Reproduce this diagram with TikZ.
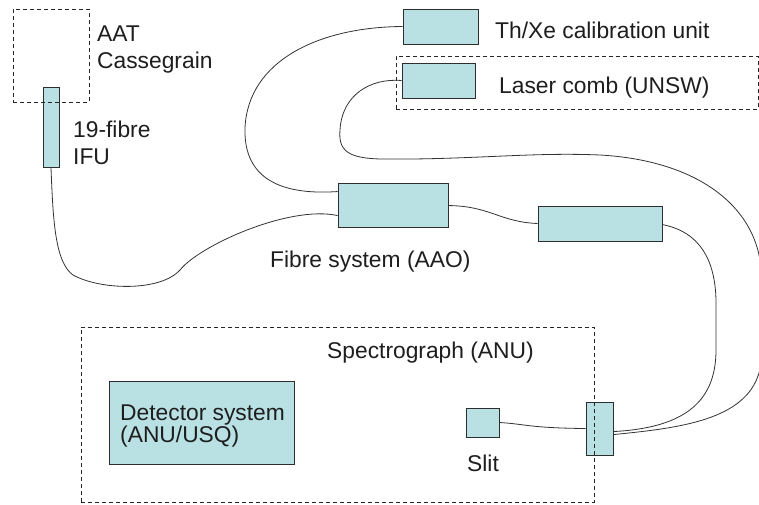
\documentclass[tikz,border=0pt]{standalone}
\usepackage{fontspec}
\setmainfont{Liberation Sans}
\usetikzlibrary{calc}
\definecolor{boxfill}{HTML}{B9E0E3}
\definecolor{boxline}{HTML}{2E2E2E}
\definecolor{txt}{HTML}{1E1E1E}
\begin{document}
\begin{tikzpicture}[x=1pt,y=-1pt,
  unit/.style={draw=boxline,fill=boxfill,line width=0.9pt,inner sep=0pt,minimum width=#1},
  group/.style={draw=black!85,dashed,dash pattern=on 4pt off 3pt,line width=0.9pt,inner sep=0pt},
  fibre/.style={draw=black!80,line width=0.8pt},
  lbl/.style={text=txt,inner sep=0pt,anchor=base west,font=\fontsize{22.8}{26}\selectfont}]
\useasboundingbox (0,0) rectangle (759,504);
\clip (0,0) rectangle (759,504);
\fill[white] (0,0) rectangle (759,504);

% units
\node[unit=16pt,minimum height=80pt] (ifu) at (51,127) {};
\node[unit=110pt,minimum height=44pt] (fib) at (393,205) {};
\node[unit=75pt,minimum height=35pt] (thxe) at (440.5,26.5) {};
\node[unit=73pt,minimum height=35pt] (laser) at (438.5,80.5) {};
\node[unit=124pt,minimum height=35pt] (sec) at (600,223.5) {};
\node[unit=33pt,minimum height=29pt] (slit) at (482.5,422.5) {};
\node[unit=27pt,minimum height=53pt] (conn) at (599.5,428.5) {};
\node[unit=185pt,minimum height=83pt] (det) at (201.5,422.5) {};

% fibres
\draw[fibre] (ifu.south) .. controls (53,220) and (55,262) .. (73,275)
  .. controls (100,290) and (160,292) .. (180,270)
  .. controls (200,245) and (290,205) .. ($(fib.north west)+(0,33)$);
\draw[fibre] (thxe.west) .. controls (320,27) and (248,60) .. (245,128)
  .. controls (243,190) and (300,194) .. ($(fib.north west)+(0,9)$);
\draw[fibre] (laser.west) .. controls (370,78) and (342,95) .. (340,130)
  .. controls (338,152) and (350,158) .. (380,159)
  .. controls (470,160) and (530,152) .. (600,155)
  .. controls (690,160) and (750,200) .. (760,260)
  .. controls (768,300) and (768,340) .. (759,373)
  .. controls (745,420) and (680,428) .. ($(conn.north east)+(0,33)$);
\draw[fibre] ($(sec.north east)+(0,19)$) .. controls (700,232) and (715,260) .. (716,300)
  -- (716,350) .. controls (716,405) and (680,428) .. ($(conn.north east)+(0,30)$);
\draw[fibre] ($(fib.north east)+(0,23)$) .. controls (490,206) and (500,222) .. (sec.west);
\draw[fibre] (slit.east) .. controls (525,424) and (530,428) .. (conn.west);

% groups (dashed outlines on top)
\node[group,minimum width=76pt,minimum height=93pt] (aat) at (51,55.5) {};
\node[group,minimum width=362pt,minimum height=53pt] (lcomb) at (577,82.5) {};
\node[group,minimum width=513pt,minimum height=175pt] (spec) at (337.5,414.5) {};

% labels
\node[lbl] (taat) at (97,41) {AAT};
\node[lbl] (tcas) at (97,68) {Cassegrain};
\node[lbl] (tifu1) at (73,137) {19-fibre};
\node[lbl] (tifu2) at (73,164) {IFU};
\node[lbl] (tthxe) at (495,38) {Th/Xe calibration unit};
\node[lbl] (tlaser) at (499,93) {Laser comb (UNSW)};
\node[lbl] (tfib) at (270,267) {Fibre system (AAO)};
\node[lbl] (tspec) at (327,358) {Spectrograph (ANU)};
\node[lbl] (tdet1) at (120,420) {Detector system};
\node[lbl] (tdet2) at (120,442) {(ANU/USQ)};
\node[lbl] (tslit) at (467,471) {Slit};
\end{tikzpicture}
\end{document}
